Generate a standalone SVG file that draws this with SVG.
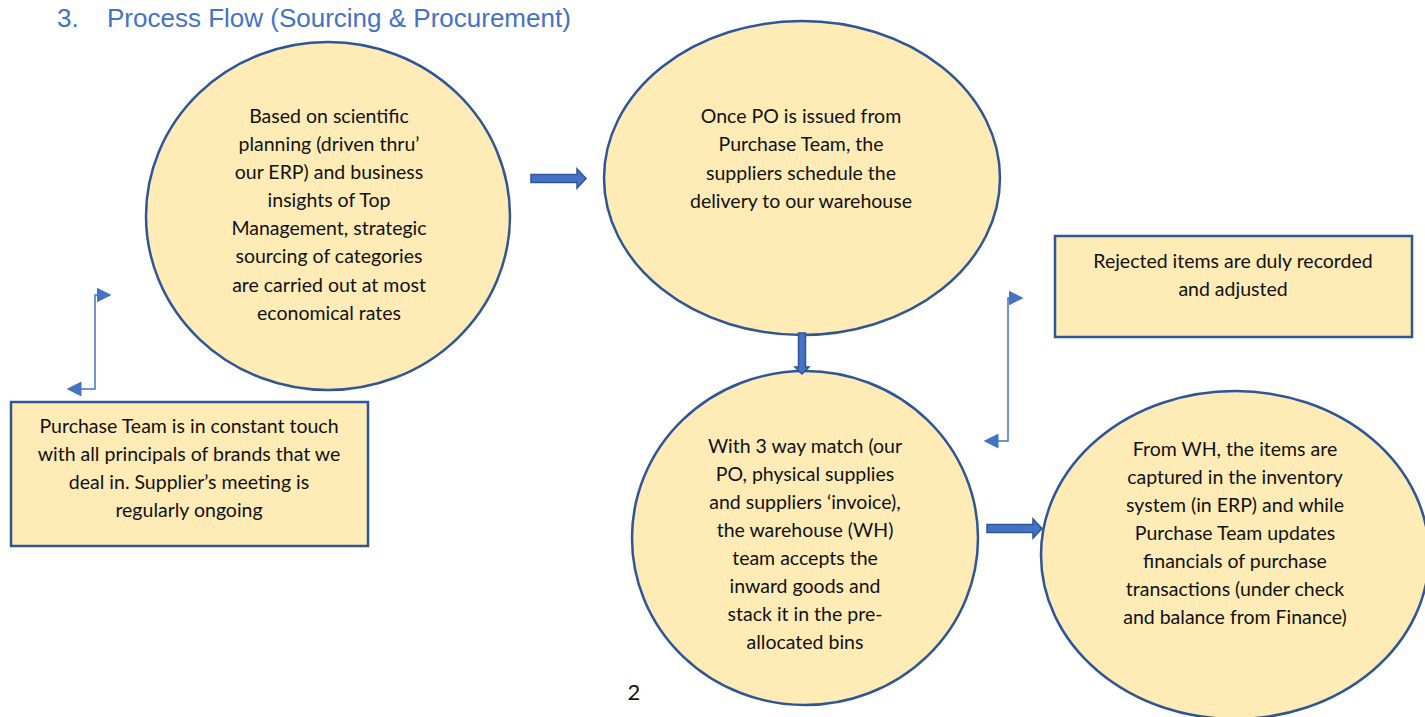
<svg xmlns="http://www.w3.org/2000/svg" width="1425" height="717" viewBox="0 0 1425 717">
<defs>
<style>
.node{fill:#FFEBB5;stroke:#2F5597;stroke-width:2.5}
.t{font-family:Lato,"Liberation Sans",sans-serif;font-size:19.5px;fill:#111;text-anchor:middle}
.blk{fill:#4472C4;stroke:#2F5597;stroke-width:1.5}
.elb{fill:none;stroke:#4472C4;stroke-width:1.5}
</style>
<marker id="ah" viewBox="0 0 10 10" refX="9" refY="5" markerWidth="15" markerHeight="15" markerUnits="userSpaceOnUse" orient="auto">
<path d="M0,0 L10,5 L0,10 z" fill="#4472C4"/>
</marker>
<marker id="ahs" viewBox="0 0 10 10" refX="1" refY="5" markerWidth="15" markerHeight="15" markerUnits="userSpaceOnUse" orient="auto-start-reverse">
<path d="M0,0 L10,5 L0,10 z" fill="#4472C4"/>
</marker>
</defs>
<rect width="1425" height="717" fill="#fff"/>
<text y="27" font-family="'Liberation Sans',Arial,sans-serif" font-size="26" fill="#4472C4"><tspan x="57">3.</tspan><tspan x="107">Process Flow (Sourcing &amp; Procurement)</tspan></text>

<g id="n1">
<ellipse class="node" cx="328" cy="216" rx="182" ry="174"/>
<text class="t"><tspan x="329" y="123">Based on scientific</tspan><tspan x="329" y="151">planning (driven thru’</tspan><tspan x="329" y="179">our ERP) and business</tspan><tspan x="329" y="207">insights of Top</tspan><tspan x="329" y="235">Management, strategic</tspan><tspan x="329" y="263">sourcing of categories</tspan><tspan x="329" y="292">are carried out at most</tspan><tspan x="329" y="320">economical rates</tspan></text>
</g>

<g id="n2">
<ellipse class="node" cx="802" cy="178" rx="198" ry="157"/>
<text class="t"><tspan x="801" y="123">Once PO is issued from</tspan><tspan x="801" y="151">Purchase Team, the</tspan><tspan x="801" y="180">suppliers schedule the</tspan><tspan x="801" y="208">delivery to our warehouse</tspan></text>
</g>

<g id="n3">
<ellipse class="node" cx="805" cy="538" rx="173" ry="167"/>
<text class="t"><tspan x="805" y="453">With 3 way match (our</tspan><tspan x="805" y="481">PO, physical supplies</tspan><tspan x="805" y="509">and suppliers ‘invoice),</tspan><tspan x="805" y="537">the warehouse (WH)</tspan><tspan x="805" y="565">team accepts the</tspan><tspan x="805" y="593">inward goods and</tspan><tspan x="805" y="621">stack it in the pre-</tspan><tspan x="805" y="649">allocated bins</tspan></text>
</g>

<g id="n4">
<ellipse class="node" cx="1235" cy="555" rx="194" ry="164"/>
<text class="t"><tspan x="1235" y="456">From WH, the items are</tspan><tspan x="1235" y="484">captured in the inventory</tspan><tspan x="1235" y="512">system (in ERP) and while</tspan><tspan x="1235" y="540">Purchase Team updates</tspan><tspan x="1235" y="568">financials of purchase</tspan><tspan x="1235" y="596">transactions (under check</tspan><tspan x="1235" y="624">and balance from Finance)</tspan></text>
</g>

<g id="n5">
<rect class="node" x="11" y="402" width="357" height="144"/>
<text class="t"><tspan x="189" y="433">Purchase Team is in constant touch</tspan><tspan x="189" y="461">with all principals of brands that we</tspan><tspan x="189" y="489">deal in. Supplier’s meeting is</tspan><tspan x="189" y="517">regularly ongoing</tspan></text>
</g>

<g id="n6">
<rect class="node" x="1055" y="236" width="357" height="101"/>
<text class="t"><tspan x="1233" y="268">Rejected items are duly recorded</tspan><tspan x="1233" y="296">and adjusted</tspan></text>
</g>

<g id="connectors">
<path class="blk" d="M531,174.5 L577,174.5 L577,169 L586,178.5 L577,188 L577,182.5 L531,182.5 z"/>
<path class="blk" d="M798.5,333 L805.5,333 L805.5,367 L809,367 L802,374 L795,367 L798.5,367 z"/>
<path class="blk" d="M987,524.5 L1033,524.5 L1033,519 L1042,528.5 L1033,538 L1033,532.5 L987,532.5 z"/>
<path class="elb" d="M80,389 L95,389 L95,295 L110,295" marker-start="url(#ahs)" marker-end="url(#ah)"/>
<path class="elb" d="M997,441 L1008,441 L1008,298 L1022,298" marker-start="url(#ahs)" marker-end="url(#ah)"/>
</g>

<text x="634" y="700" font-family="Lato,'Liberation Sans',sans-serif" font-size="22" fill="#111" text-anchor="middle">2</text>
</svg>
